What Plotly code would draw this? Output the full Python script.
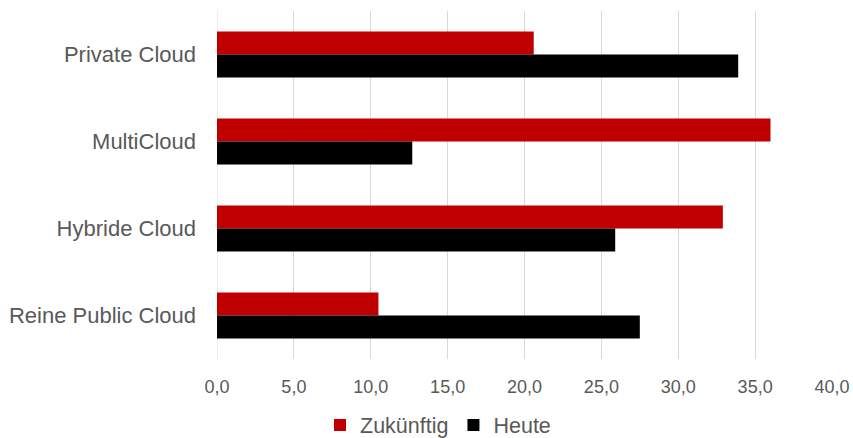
import plotly.graph_objects as go

# Cloud deployment models, listed top to bottom
categories = ["Private Cloud", "MultiCloud", "Hybride Cloud", "Reine Public Cloud"]
zukuenftig = [20.6, 36.0, 32.9, 10.5]
heute = [33.9, 12.7, 25.9, 27.5]

series_names = ["Zukünftig", "Heute"]
series_colors = ["#C00000", "#000000"]

text_color = "#595959"
grid_color = "#D9D9D9"
font_family = "Liberation Sans, Arial, sans-serif"

fig = go.Figure()
for name, values, color in zip(series_names, [zukuenftig, heute], series_colors):
    fig.add_trace(go.Bar(
        y=categories,
        x=values,
        name=name,
        orientation="h",
        marker=dict(color=color, line=dict(width=0)),
    ))

fig.update_layout(
    width=853,
    height=438,
    margin=dict(l=217, r=21, t=11, b=79, autoexpand=False),
    paper_bgcolor="white",
    plot_bgcolor="white",
    barmode="group",
    bargap=0.47,
    bargroupgap=0,
    separators=",.",
    font=dict(family=font_family, color=text_color),
    showlegend=True,
    legend=dict(
        orientation="h",
        x=(320 - 217) / 615,
        xanchor="left",
        y=-0.19,
        yanchor="middle",
        font=dict(size=21.5, color=text_color),
        itemwidth=30,
        itemclick=False,
    ),
    xaxis=dict(
        range=[0, 40],
        dtick=5,
        tick0=0,
        tickformat=".1f",
        showgrid=True,
        gridcolor=grid_color,
        gridwidth=1,
        zeroline=False,
        showline=False,
        ticks="",
        ticklabelstandoff=15,
        tickfont=dict(size=18, color=text_color),
    ),
    yaxis=dict(
        categoryorder="array",
        categoryarray=categories,
        autorange="reversed",
        showgrid=False,
        zeroline=False,
        showline=False,
        ticks="",
        ticklabelstandoff=20,
        tickfont=dict(size=22, color=text_color),
    ),
)

# Left boundary line at zero drawn in the grid colour
fig.add_shape(type="line", xref="x", yref="paper", x0=0, x1=0, y0=0, y1=1,
              line=dict(color=grid_color, width=1), layer="below")

fig.write_html("out.html")
